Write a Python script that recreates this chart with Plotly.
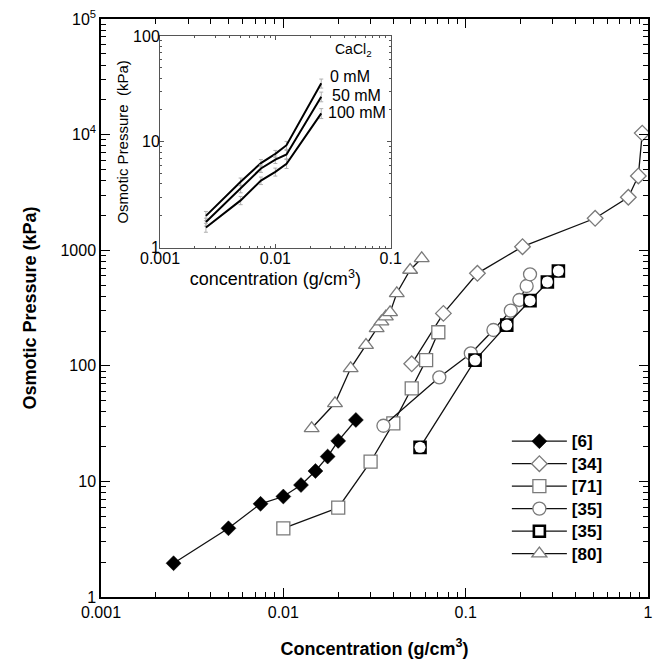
import plotly.graph_objects as go

# ---------------- data ----------------
# [6] filled diamonds
x6 = [0.0025, 0.005, 0.0075, 0.01, 0.0125, 0.015, 0.0175, 0.02, 0.025]
y6 = [1.96, 3.93, 6.4, 7.4, 9.3, 12.3, 16.4, 22.4, 34.0]
# [34] open diamonds
x34 = [0.0506, 0.0755, 0.116, 0.205, 0.513, 0.78, 0.885, 0.93]
y34 = [104, 284, 631, 1072, 1888, 2870, 4390, 10300]
# [71] open squares
x71 = [0.01, 0.02, 0.0301, 0.0401, 0.0506, 0.0607, 0.0708]
y71 = [3.93, 5.92, 14.8, 31.8, 63.9, 112, 195]
# [35] open circles
x35a = [0.0354, 0.0717, 0.1067, 0.142, 0.1768, 0.197, 0.216, 0.2254]
y35a = [30.3, 79.5, 128, 204, 300, 371, 490, 619]
# [35] square with circle
x35b = [0.0562, 0.1126, 0.168, 0.2254, 0.2806, 0.3225]
y35b = [19.7, 112, 225, 366, 531, 661]
# [80] open triangles
x80 = [0.0143, 0.0192, 0.0234, 0.0284, 0.0325, 0.0345, 0.0365, 0.0385, 0.0419, 0.0496, 0.0574]
y80 = [28.8, 47.4, 95.1, 151, 211, 241, 266, 290, 424, 674, 851]

# inset: CaCl2 series
xin = [0.0025, 0.005, 0.0075, 0.01, 0.0125, 0.025]
y_0mM = [2.0, 4.2, 6.3, 7.7, 9.3, 35.7]
y_50mM = [1.75, 3.6, 5.6, 6.8, 7.6, 26.7]
y_100mM = [1.55, 2.8, 4.3, 5.2, 6.2, 18.6]
e_0mM = [0.2, 0.35, 0.5, 0.6, 0.8, 3.5]
e_50mM = [0.15, 0.3, 0.45, 0.55, 0.7, 2.8]
e_100mM = [0.15, 0.25, 0.35, 0.45, 0.6, 2.0]
inset_labels = ["0 mM", "50 mM", "100 mM"]

ytick_vals = [1, 10, 100, 1000, 10000, 100000]
ytick_text = ["1", "10", "100", "1000", "10<sup>4</sup>", "10<sup>5</sup>"]
xtick_vals = [0.001, 0.01, 0.1, 1]
xtick_text = ["0.001", "0.01", "0.1", "1"]
in_xtick_vals = [0.001, 0.01, 0.1]
in_xtick_text = ["0.001", "0.01", "0.1"]
in_ytick_vals = [1, 10, 100]
in_ytick_text = ["1", "10", "100"]

FONT = "Liberation Sans, Arial, Helvetica, sans-serif"
LINE = "#111111"
GREY = "#7a7a7a"

fig = go.Figure()

def lab(s):
    return '<span style="font-size:17px"><b>' + s + '</b></span>'

def add(x, y, name, symbol, size, fill, lcol, lw=1.3, show=True):
    fig.add_trace(go.Scatter(
        x=x, y=y, name=lab(name), mode="lines+markers", showlegend=show,
        line=dict(color=LINE, width=1.3),
        marker=dict(symbol=symbol, size=size, color=fill,
                    line=dict(color=lcol, width=lw)),
        xaxis="x", yaxis="y"))

add(x6, y6, "[6]", "diamond", 11.5, "black", "black", 0.5)
add(x34, y34, "[34]", "diamond", 12, "white", GREY)
add(x71, y71, "[71]", "square", 13, "white", GREY)
add(x35a, y35a, "[35]", "circle", 13, "white", GREY)
add(x35b, y35b, "[35]", "square", 11, "white", "black", 2.6)
# white circle inside squares
fig.add_trace(go.Scatter(x=x35b, y=y35b, mode="markers", showlegend=False,
                         marker=dict(symbol="circle", size=11, color="white",
                                     line=dict(width=0)),
                         xaxis="x", yaxis="y", hoverinfo="skip"))
add(x80, y80, "[80]", "triangle-up", 13, "white", GREY)

# inset traces
for yv, ev in [(y_0mM, e_0mM), (y_50mM, e_50mM), (y_100mM, e_100mM)]:
    fig.add_trace(go.Scatter(
        x=xin, y=yv, mode="lines", showlegend=False,
        line=dict(color="black", width=2),
        error_y=dict(type="data", array=ev, color="#b0b0b0", thickness=1, width=2),
        xaxis="x2", yaxis="y2"))

axis_common = dict(showline=True, linecolor="black", linewidth=1.5, mirror="ticks",
                   ticks="inside", tickcolor="black", tickwidth=1.2, ticklen=9,
                   showgrid=False, zeroline=False, type="log", automargin=False,
                   ticklabeloverflow="allow",
                   minor=dict(ticks="inside", ticklen=5, tickcolor="black",
                              tickwidth=1, dtick="D1", showgrid=False))

inset_common = dict(type="log", showline=True, linecolor="#555555", linewidth=1,
                    mirror="ticks", ticks="inside", ticklen=4, tickcolor="#555555",
                    showgrid=False, zeroline=False, tickfont=dict(size=16),
                    automargin=False, ticklabelstandoff=-4, ticklabeloverflow="allow",
                    minor=dict(ticks="inside", ticklen=2, tickcolor="#555555", dtick="D1"))

# page body has an 8px default margin -> figure sized to fit the 665x667 window
fig.update_layout(
    width=657, height=659,
    margin=dict(l=93, r=17, t=11, b=70),
    paper_bgcolor="white", plot_bgcolor="white",
    font=dict(family=FONT, color="black", size=16),
    xaxis=dict(range=[-3, 0], tickmode="array", tickvals=xtick_vals, ticktext=xtick_text,
               tickfont=dict(size=16),
               title=dict(text="<b>Concentration (g/cm<sup>3</sup>)</b>", font=dict(size=18),
                          standoff=22),
               **axis_common),
    yaxis=dict(range=[0, 5], tickmode="array", tickvals=ytick_vals, ticktext=ytick_text,
               tickfont=dict(size=16),
               title=dict(text="<b>Osmotic Pressure (kPa)</b>", font=dict(size=18),
                          standoff=19),
               **axis_common),
    xaxis2=dict(domain=[0.1079, 0.5296], anchor="y2", range=[-3, -1],
                tickmode="array", tickvals=in_xtick_vals, ticktext=in_xtick_text,
                title=dict(text="concentration (g/cm<sup>3</sup>)", font=dict(size=18),
                           standoff=0),
                **inset_common),
    yaxis2=dict(domain=[0.6043, 0.9706], anchor="x2", range=[0, 2],
                tickmode="array", tickvals=in_ytick_vals, ticktext=in_ytick_text,
                title=dict(text="Osmotic Pressure  (kPa)", font=dict(size=15),
                           standoff=0),
                **inset_common),
    legend=dict(x=0.742, y=0.2977, xanchor="left", yanchor="top",
                bgcolor="rgba(0,0,0,0)", font=dict(size=15),
                itemwidth=55, tracegroupgap=0),
    showlegend=True,
)

# inset plot background
fig.add_shape(type="rect", xref="x2 domain", yref="y2 domain", x0=0, x1=1, y0=0, y1=1,
              fillcolor="white", line=dict(width=0), layer="below")

fig.add_annotation(x=0.424, y=0.9464, xref="paper", yref="paper", xanchor="left",
                   yanchor="middle", text="CaCl<sub>2</sub>", showarrow=False,
                   font=dict(size=14))
for labt, yy, xx in zip(inset_labels, [0.8997, 0.8668, 0.8374], [0.4155, 0.418, 0.4106]):
    fig.add_annotation(x=xx, y=yy, xref="paper", yref="paper", xanchor="left",
                       yanchor="middle", text=labt, showarrow=False, font=dict(size=16))

fig.write_html("out.html")
